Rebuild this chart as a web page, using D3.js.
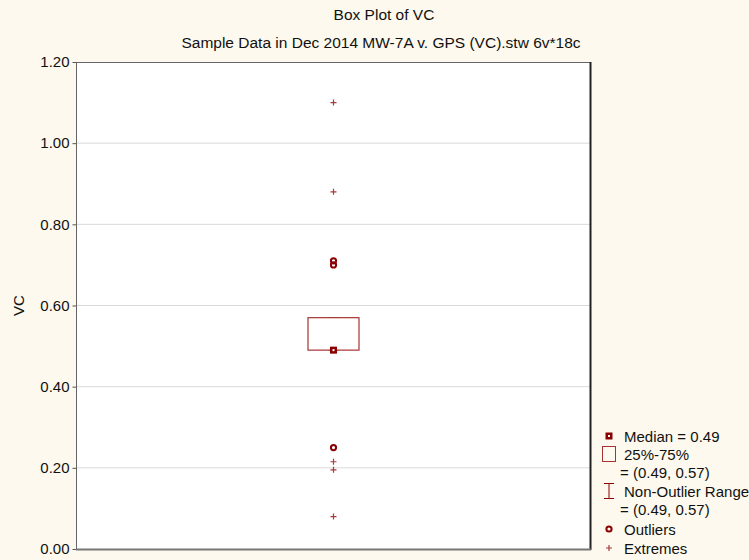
<!DOCTYPE html>
<html>
<head>
<meta charset="utf-8">
<script src="https://cdn.jsdelivr.net/npm/d3@7"></script>
<style>
  html, body { margin: 0; padding: 0; background: #fdf9ee; }
  svg { display: block; font-family: "Liberation Sans", Arial, sans-serif; }
</style>
</head>
<body>
<svg id="chart" width="749" height="560"></svg>
<script>
// Box plot summary for VC
const variableName = "VC";
const median = 0.49;
const quartiles = [0.49, 0.57];        // 25%, 75%
const nonOutlierRange = [0.49, 0.57];  // whisker min, max
const outliers = [0.71, 0.70, 0.25];
const extremes = [1.10, 0.88, 0.215, 0.195, 0.08];
const yTicks = [0, 0.2, 0.4, 0.6, 0.8, 1.0, 1.2];

const svg = d3.select("#chart");
const W = 749, H = 560;
const m = { left: 77, right: 159, top: 62, bottom: 11 };
const x0 = m.left, x1 = W - m.right, y0 = m.top, y1 = H - m.bottom;

const y = d3.scaleLinear().domain([0, 1.2]).range([y1, y0]);
const x = d3.scaleBand().domain([variableName]).range([x0, x1]);
const cx = x(variableName) + x.bandwidth() / 2;

const dark = "#8b0000";
const boxCol = "#a83232";
const plusCol = "#a83a3a";

// Titles
svg.append("text").attr("x", 384).attr("y", 20).attr("text-anchor", "middle")
  .attr("font-size", 15.5).attr("fill", "#111").text("Box Plot of VC");
svg.append("text").attr("x", 381).attr("y", 48).attr("text-anchor", "middle")
  .attr("font-size", 15.5).attr("fill", "#111")
  .text("Sample Data in Dec 2014 MW-7A v. GPS (VC).stw 6v*18c");

// Plot area
svg.append("rect").attr("x", x0).attr("y", y0).attr("width", x1 - x0).attr("height", y1 - y0)
  .attr("fill", "#fff");

// Gridlines
svg.append("g").selectAll("line").data(yTicks.filter(d => d > 0 && d < 1.2)).join("line")
  .attr("x1", x0).attr("x2", x1).attr("y1", d => y(d)).attr("y2", d => y(d))
  .attr("stroke", "#d9d9d9").attr("stroke-width", 1);

// Y axis
const yAxis = d3.axisLeft(y).tickValues(yTicks).tickFormat(d3.format(".2f")).tickSize(4).tickPadding(3);
const gy = svg.append("g").attr("transform", `translate(${x0 - 0.5},0)`).call(yAxis);
gy.select(".domain").remove();
gy.selectAll(".tick line").attr("stroke", "#555");
gy.selectAll(".tick text").attr("font-size", 15).attr("fill", "#111")
  .attr("font-family", "'Liberation Sans', Arial, sans-serif");

svg.append("text").attr("transform", `translate(24,${(y0 + y1) / 2}) rotate(-90)`)
  .attr("text-anchor", "middle").attr("font-size", 15).attr("fill", "#111").text(variableName);

// Frame
svg.append("line").attr("x1", x0).attr("x2", x1).attr("y1", y0 + 0.5).attr("y2", y0 + 0.5)
  .attr("stroke", "#666").attr("stroke-width", 1);
svg.append("line").attr("x1", x0 - 0.5).attr("x2", x0 - 0.5).attr("y1", y0).attr("y2", y1)
  .attr("stroke", "#666").attr("stroke-width", 1);
svg.append("line").attr("x1", x1 + 0.5).attr("x2", x1 + 0.5).attr("y1", y0).attr("y2", y1 + 1)
  .attr("stroke", "#222").attr("stroke-width", 2);
svg.append("line").attr("x1", x0 - 1).attr("x2", x1 + 1).attr("y1", y1 + 0.5).attr("y2", y1 + 0.5)
  .attr("stroke", "#777").attr("stroke-width", 2);

// Whiskers (non-outlier range)
const capW = 10;
const wg = svg.append("g").attr("stroke", boxCol).attr("stroke-width", 1);
wg.append("line").attr("x1", cx).attr("x2", cx)
  .attr("y1", y(nonOutlierRange[0])).attr("y2", y(nonOutlierRange[1]));
nonOutlierRange.forEach(v => wg.append("line").attr("x1", cx - capW / 2).attr("x2", cx + capW / 2)
  .attr("y1", y(v)).attr("y2", y(v)));

// Box (25%-75%)
const boxW = 51;
svg.append("rect").attr("x", cx - boxW / 2).attr("y", y(quartiles[1]))
  .attr("width", boxW).attr("height", y(quartiles[0]) - y(quartiles[1]))
  .attr("fill", "#fff").attr("stroke", boxCol).attr("stroke-width", 1.2);

// Median marker
function medianMark(g, px, py) {
  g.append("rect").attr("x", px - 3.5).attr("y", py - 3.5).attr("width", 7).attr("height", 7)
    .attr("fill", dark);
  g.append("rect").attr("x", px - 1).attr("y", py - 1).attr("width", 2).attr("height", 2)
    .attr("fill", "#fff");
}
medianMark(svg, cx, y(median));

// Outliers
function outlierMark(g, px, py) {
  g.append("circle").attr("cx", px).attr("cy", py).attr("r", 2.6)
    .attr("fill", "none").attr("stroke", dark).attr("stroke-width", 2);
}
outliers.forEach(v => outlierMark(svg, cx, y(v)));

// Extremes
function plusMark(g, px, py) {
  g.append("path").attr("d", `M${px - 3},${py}H${px + 3}M${px},${py - 3}V${py + 3}`)
    .attr("stroke", plusCol).attr("stroke-width", 1.2).attr("fill", "none");
}
extremes.forEach(v => plusMark(svg, cx, y(v)));

// Legend
const fmt = d3.format(".2f");
const lg = svg.append("g").attr("font-size", 15).attr("fill", "#111");
const lx = 609, tx = 624;
medianMark(lg, lx, 436);
lg.append("text").attr("x", tx).attr("y", 441.5).text(`Median = ${fmt(median)}`);
lg.append("rect").attr("x", lx - 6.5).attr("y", 446.5).attr("width", 13).attr("height", 15)
  .attr("fill", "none").attr("stroke", boxCol).attr("stroke-width", 1);
lg.append("text").attr("x", tx).attr("y", 459.5).text("25%-75%");
lg.append("text").attr("x", tx - 4).attr("y", 477.5)
  .text(`= (${fmt(quartiles[0])}, ${fmt(quartiles[1])})`);
lg.append("path").attr("d", `M${lx - 5},483.5H${lx + 5}M${lx},483.5V498.5M${lx - 5},498.5H${lx + 5}`)
  .attr("stroke", dark).attr("stroke-width", 1).attr("fill", "none");
lg.append("text").attr("x", tx).attr("y", 496.5).text("Non-Outlier Range");
lg.append("text").attr("x", tx - 4).attr("y", 514.5)
  .text(`= (${fmt(nonOutlierRange[0])}, ${fmt(nonOutlierRange[1])})`);
outlierMark(lg, lx, 529);
lg.append("text").attr("x", tx).attr("y", 534.5).text("Outliers");
plusMark(lg, lx, 548);
lg.append("text").attr("x", tx).attr("y", 553.5).text("Extremes");
</script>
</body>
</html>
